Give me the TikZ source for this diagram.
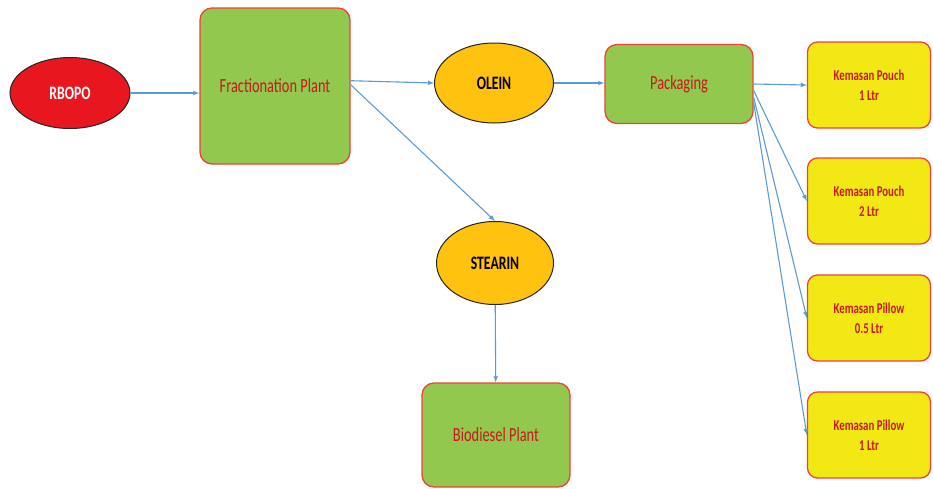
\documentclass[tikz,border=0pt]{standalone}
\usepackage{fontspec}
\setmainfont{Carlito}
\newfontfamily\slimfont[FakeStretch=0.72]{Carlito}
\usetikzlibrary{shapes.geometric}
\usetikzlibrary{arrows}

\definecolor{oilred}{HTML}{E8161E}
\definecolor{oilorange}{HTML}{FFC20E}
\definecolor{plantgreen}{HTML}{92C84E}
\definecolor{packyellow}{HTML}{F2E814}
\definecolor{edgered}{HTML}{F2403A}
\definecolor{labelred}{HTML}{C8191E}
\definecolor{flowblue}{HTML}{5B9BD5}

\begin{document}
\begin{tikzpicture}[x=1pt,y=-1pt,
	oil/.style={draw=black!85,line width=1pt,ellipse,inner sep=0pt,font=\slimfont\bfseries\fontsize{19}{22}\selectfont},
	plant/.style={draw=edgered,line width=1.3pt,fill=plantgreen,rounded corners=12pt,inner sep=0pt,text=labelred,font=\slimfont\fontsize{20}{24}\selectfont},
	pouch/.style={draw=edgered,line width=1.3pt,fill=packyellow,rounded corners=10pt,inner sep=0pt,align=center,text=labelred,minimum width=123pt,minimum height=86pt,font=\slimfont\bfseries\fontsize{15}{20}\selectfont},
	flow/.style={draw=flowblue,line width=1.1pt,-latex}]
	\useasboundingbox (0,0) rectangle (933,488);
	\node[oil,fill=oilred,text=white,minimum width=120pt,minimum height=71pt] (rbopo) at (70,93) {RBOPO};
	\node[plant,minimum width=150pt,minimum height=156pt] (frac) at (275,86) {Fractionation Plant};
	\node[oil,fill=oilorange,minimum width=119pt,minimum height=80pt] (olein) at (494,83) {OLEIN};
	\node[plant,minimum width=148pt,minimum height=79pt] (pack) at (679,84) {Packaging};
	\node[oil,fill=oilorange,minimum width=117pt,minimum height=83pt] (stearin) at (495,263) {STEARIN};
	\node[plant,minimum width=148pt,minimum height=104pt] (bio) at (496,435) {Biodiesel Plant};
	\node[pouch] (pouch1) at (869,85) {Kemasan Pouch\\1 Ltr};
	\node[pouch] (pouch2) at (869,201) {Kemasan Pouch\\2 Ltr};
	\node[pouch] (pillow1) at (869,318) {Kemasan Pillow\\0.5 Ltr};
	\node[pouch] (pillow2) at (869,435) {Kemasan Pillow\\1 Ltr};

	\draw[flow] (rbopo) -- (frac.west |- rbopo);
	\draw[flow] (frac.4) -- (olein.west);
	\draw[flow] (frac.1) -- (stearin.north);
	\draw[flow] (olein) -- (pack.west |- olein);
	\draw[flow] (stearin) -- (bio);
	\draw[flow] (pack.east) -- (pouch1.west);
	\draw[flow] (pack.-5) -- (pouch2.west);
	\draw[flow] (pack.-10) -- (pillow1.west);
	\draw[flow] (pack.-14) -- (pillow2.west);
\end{tikzpicture}
\end{document}
